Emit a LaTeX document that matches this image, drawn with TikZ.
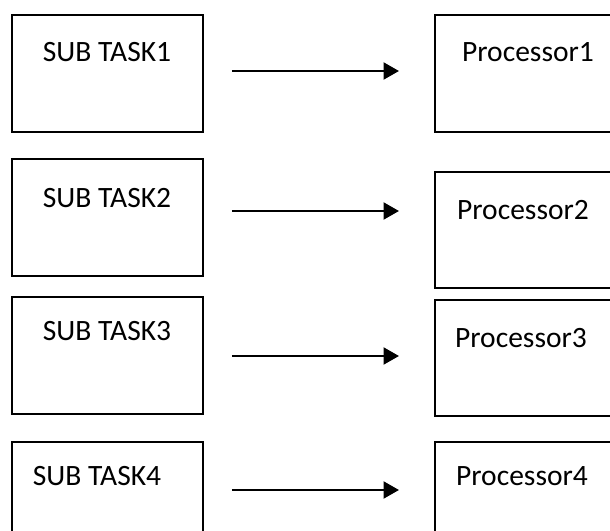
\documentclass[tikz,border=0pt]{standalone}
\usepackage{fontspec}
\setmainfont{Carlito}
\usetikzlibrary{arrows.meta}

\begin{document}
\begin{tikzpicture}[x=0.02cm, y=-0.02cm,
	taskbox/.style={draw, black, line width=0.4mm, minimum width=3.82cm, minimum height=2.34cm, inner sep=0pt},
	procbox/.style={draw, black, line width=0.4mm, minimum width=4.5cm, minimum height=2.34cm, inner sep=0pt},
	lbl/.style={inner sep=0pt, font=\fontsize{16.8}{19}\selectfont},
	arr/.style={black, line width=0.45mm, -{Triangle[length=0.31cm, width=0.34cm]}}]

\useasboundingbox (0,0) rectangle (610,531);
\clip (0,0) rectangle (610,531);

% sub tasks
\node[taskbox] (t1) at (107.5,73.4) {};
\node[taskbox] (t2) at (107.5,217.8) {};
\node[taskbox] (t3) at (107.5,355.5) {};
\node[taskbox] (t4) at (107.5,500.5) {};

% processors
\node[procbox] (p1) at (547,73.4) {};
\node[procbox] (p2) at (547,230) {};
\node[procbox] (p3) at (547,358) {};
\node[procbox] (p4) at (547,500.5) {};

% texts
\node[lbl] (t1txt) at (107,52) {SUB TASK1};
\node[lbl] (t2txt) at (107,198) {SUB TASK2};
\node[lbl] (t3txt) at (107,331) {SUB TASK3};
\node[lbl] (t4txt) at (97,476) {SUB TASK4};

\node[lbl] (p1txt) at (528,52) {Processor1};
\node[lbl] (p2txt) at (523,210) {Processor2};
\node[lbl] (p3txt) at (521,338) {Processor3};
\node[lbl] (p4txt) at (522,476) {Processor4};

% arrows
\coordinate (a1) at (232,71);  \coordinate (b1) at (399,71);
\coordinate (a2) at (232,211); \coordinate (b2) at (399,211);
\coordinate (a3) at (232,356); \coordinate (b3) at (399,356);
\coordinate (a4) at (232,490); \coordinate (b4) at (399,490);

\draw[arr] (a1) -- (b1);
\draw[arr] (a2) -- (b2);
\draw[arr] (a3) -- (b3);
\draw[arr] (a4) -- (b4);

\end{tikzpicture}
\end{document}
